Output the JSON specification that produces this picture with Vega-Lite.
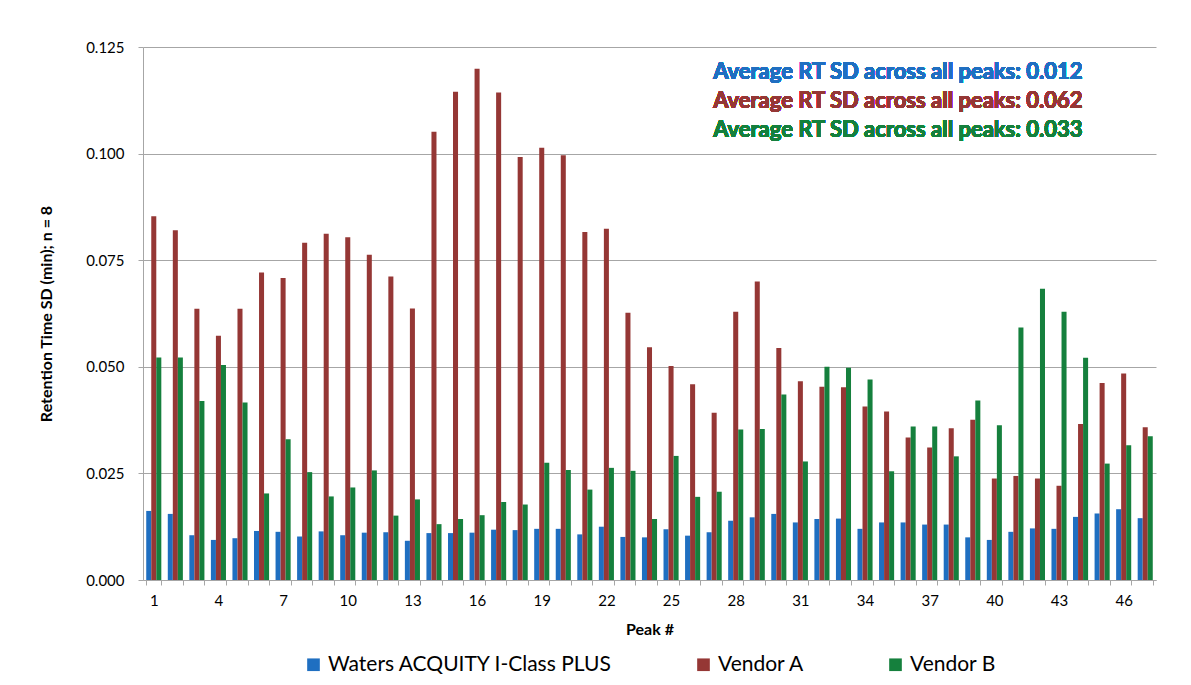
{
  "$schema": "https://vega.github.io/schema/vega-lite/v6.json",
  "width": 1013,
  "height": 533,
  "padding": {"left": 38, "top": 40, "right": 36, "bottom": 5},
  "background": "white",
  "config": {
    "font": "Lato",
    "view": {"stroke": null},
    "axis": {"labelFont": "Lato", "titleFont": "Lato", "labelColor": "#000000", "titleColor": "#000000"},
    "legend": {"layout": {"bottom": {"anchor": "middle"}}}
  },
  "data": {
    "values": [
      {"peak": 1, "Waters ACQUITY I-Class PLUS": 0.0162, "Vendor A": 0.0853, "Vendor B": 0.0522},
      {"peak": 2, "Waters ACQUITY I-Class PLUS": 0.0155, "Vendor A": 0.0820, "Vendor B": 0.0522},
      {"peak": 3, "Waters ACQUITY I-Class PLUS": 0.0105, "Vendor A": 0.0636, "Vendor B": 0.0420},
      {"peak": 4, "Waters ACQUITY I-Class PLUS": 0.0094, "Vendor A": 0.0573, "Vendor B": 0.0504},
      {"peak": 5, "Waters ACQUITY I-Class PLUS": 0.0098, "Vendor A": 0.0636, "Vendor B": 0.0416},
      {"peak": 6, "Waters ACQUITY I-Class PLUS": 0.0115, "Vendor A": 0.0721, "Vendor B": 0.0203},
      {"peak": 7, "Waters ACQUITY I-Class PLUS": 0.0113, "Vendor A": 0.0708, "Vendor B": 0.0330},
      {"peak": 8, "Waters ACQUITY I-Class PLUS": 0.0102, "Vendor A": 0.0791, "Vendor B": 0.0253},
      {"peak": 9, "Waters ACQUITY I-Class PLUS": 0.0114, "Vendor A": 0.0812, "Vendor B": 0.0196},
      {"peak": 10, "Waters ACQUITY I-Class PLUS": 0.0105, "Vendor A": 0.0804, "Vendor B": 0.0217},
      {"peak": 11, "Waters ACQUITY I-Class PLUS": 0.0111, "Vendor A": 0.0763, "Vendor B": 0.0257},
      {"peak": 12, "Waters ACQUITY I-Class PLUS": 0.0112, "Vendor A": 0.0712, "Vendor B": 0.0151},
      {"peak": 13, "Waters ACQUITY I-Class PLUS": 0.0092, "Vendor A": 0.0637, "Vendor B": 0.0189},
      {"peak": 14, "Waters ACQUITY I-Class PLUS": 0.0110, "Vendor A": 0.1051, "Vendor B": 0.0131},
      {"peak": 15, "Waters ACQUITY I-Class PLUS": 0.0110, "Vendor A": 0.1145, "Vendor B": 0.0143},
      {"peak": 16, "Waters ACQUITY I-Class PLUS": 0.0111, "Vendor A": 0.1199, "Vendor B": 0.0152},
      {"peak": 17, "Waters ACQUITY I-Class PLUS": 0.0118, "Vendor A": 0.1143, "Vendor B": 0.0183},
      {"peak": 18, "Waters ACQUITY I-Class PLUS": 0.0117, "Vendor A": 0.0992, "Vendor B": 0.0177},
      {"peak": 19, "Waters ACQUITY I-Class PLUS": 0.0120, "Vendor A": 0.1014, "Vendor B": 0.0275},
      {"peak": 20, "Waters ACQUITY I-Class PLUS": 0.0120, "Vendor A": 0.0996, "Vendor B": 0.0258},
      {"peak": 21, "Waters ACQUITY I-Class PLUS": 0.0107, "Vendor A": 0.0816, "Vendor B": 0.0212},
      {"peak": 22, "Waters ACQUITY I-Class PLUS": 0.0125, "Vendor A": 0.0824, "Vendor B": 0.0263},
      {"peak": 23, "Waters ACQUITY I-Class PLUS": 0.0101, "Vendor A": 0.0627, "Vendor B": 0.0256},
      {"peak": 24, "Waters ACQUITY I-Class PLUS": 0.0100, "Vendor A": 0.0546, "Vendor B": 0.0143},
      {"peak": 25, "Waters ACQUITY I-Class PLUS": 0.0119, "Vendor A": 0.0502, "Vendor B": 0.0291},
      {"peak": 26, "Waters ACQUITY I-Class PLUS": 0.0104, "Vendor A": 0.0459, "Vendor B": 0.0195},
      {"peak": 27, "Waters ACQUITY I-Class PLUS": 0.0112, "Vendor A": 0.0392, "Vendor B": 0.0207},
      {"peak": 28, "Waters ACQUITY I-Class PLUS": 0.0139, "Vendor A": 0.0629, "Vendor B": 0.0353},
      {"peak": 29, "Waters ACQUITY I-Class PLUS": 0.0147, "Vendor A": 0.0700, "Vendor B": 0.0354},
      {"peak": 30, "Waters ACQUITY I-Class PLUS": 0.0155, "Vendor A": 0.0544, "Vendor B": 0.0435},
      {"peak": 31, "Waters ACQUITY I-Class PLUS": 0.0135, "Vendor A": 0.0466, "Vendor B": 0.0278},
      {"peak": 32, "Waters ACQUITY I-Class PLUS": 0.0143, "Vendor A": 0.0453, "Vendor B": 0.0500},
      {"peak": 33, "Waters ACQUITY I-Class PLUS": 0.0144, "Vendor A": 0.0452, "Vendor B": 0.0498},
      {"peak": 34, "Waters ACQUITY I-Class PLUS": 0.0120, "Vendor A": 0.0407, "Vendor B": 0.0470},
      {"peak": 35, "Waters ACQUITY I-Class PLUS": 0.0135, "Vendor A": 0.0395, "Vendor B": 0.0255},
      {"peak": 36, "Waters ACQUITY I-Class PLUS": 0.0135, "Vendor A": 0.0334, "Vendor B": 0.0360},
      {"peak": 37, "Waters ACQUITY I-Class PLUS": 0.0130, "Vendor A": 0.0311, "Vendor B": 0.0360},
      {"peak": 38, "Waters ACQUITY I-Class PLUS": 0.0130, "Vendor A": 0.0356, "Vendor B": 0.0290},
      {"peak": 39, "Waters ACQUITY I-Class PLUS": 0.0100, "Vendor A": 0.0376, "Vendor B": 0.0421},
      {"peak": 40, "Waters ACQUITY I-Class PLUS": 0.0094, "Vendor A": 0.0238, "Vendor B": 0.0363},
      {"peak": 41, "Waters ACQUITY I-Class PLUS": 0.0113, "Vendor A": 0.0244, "Vendor B": 0.0592},
      {"peak": 42, "Waters ACQUITY I-Class PLUS": 0.0121, "Vendor A": 0.0238, "Vendor B": 0.0683},
      {"peak": 43, "Waters ACQUITY I-Class PLUS": 0.0120, "Vendor A": 0.0221, "Vendor B": 0.0629},
      {"peak": 44, "Waters ACQUITY I-Class PLUS": 0.0148, "Vendor A": 0.0366, "Vendor B": 0.0521},
      {"peak": 45, "Waters ACQUITY I-Class PLUS": 0.0156, "Vendor A": 0.0462, "Vendor B": 0.0273},
      {"peak": 46, "Waters ACQUITY I-Class PLUS": 0.0166, "Vendor A": 0.0484, "Vendor B": 0.0316},
      {"peak": 47, "Waters ACQUITY I-Class PLUS": 0.0145, "Vendor A": 0.0358, "Vendor B": 0.0337}
    ]
  },
  "encoding": {
    "x": {
      "field": "peak",
      "type": "ordinal",
      "title": "Peak #",
      "scale": {"paddingInner": 0.3, "paddingOuter": 0.15},
      "axis": {
        "labelAngle": 0,
        "labelExpr": "(datum.value - 1) % 3 == 0 ? datum.label : ''",
        "labelOverlap": false,
        "labelFontSize": 15,
        "labelPadding": 8,
        "tickBand": "extent",
        "tickSize": 5,
        "tickColor": "#A6A6A6",
        "domainColor": "#A6A6A6",
        "titleFontSize": 16,
        "titleFontWeight": "bold",
        "titlePadding": 13
      }
    }
  },
  "layer": [
    {
      "transform": [
        {"fold": ["Waters ACQUITY I-Class PLUS", "Vendor A", "Vendor B"], "as": ["series", "sd"]}
      ],
      "mark": {"type": "bar"},
      "encoding": {
        "xOffset": {
          "field": "series",
          "type": "nominal",
          "sort": ["Waters ACQUITY I-Class PLUS", "Vendor A", "Vendor B"],
          "scale": {"paddingInner": 0, "paddingOuter": 0}
        },
        "y": {
          "field": "sd",
          "type": "quantitative",
          "title": "Retention Time SD (min); n = 8",
          "scale": {"domain": [0, 0.125], "nice": false},
          "axis": {
            "values": [0, 0.025, 0.05, 0.075, 0.1, 0.125],
            "format": ".3f",
            "labelFontSize": 15,
            "labelPadding": 14,
            "tickSize": 5,
            "tickColor": "#A6A6A6",
            "domainColor": "#A6A6A6",
            "gridColor": "#A6A6A6",
            "gridOpacity": 1,
            "titleFontSize": 16,
            "titleFontWeight": "bold",
            "titlePadding": 31
          }
        },
        "color": {
          "field": "series",
          "type": "nominal",
          "scale": {
            "domain": ["Waters ACQUITY I-Class PLUS", "Vendor A", "Vendor B"],
            "range": ["#1F6FC1", "#953735", "#15803D"]
          },
          "legend": {
            "title": null,
            "orient": "bottom",
            "direction": "horizontal",
            "symbolType": "square",
            "symbolSize": 160,
            "symbolStrokeWidth": 0,
            "labelFontSize": 21,
            "labelFont": "Lato",
            "labelLimit": 0,
            "columnPadding": 80,
            "offset": 17
          }
        }
      }
    },
    {
      "mark": {"type": "text", "align": "right", "baseline": "middle", "fontSize": 22, "fontWeight": "bold", "color": "#1F6FC1", "dx": 2, "text": "Average RT SD across all peaks: 0.012"},
      "encoding": {"x": {"datum": 44, "type": "ordinal"}, "y": {"datum": 0.1191}}
    },
    {
      "mark": {"type": "text", "align": "right", "baseline": "middle", "fontSize": 22, "fontWeight": "bold", "color": "#953735", "dx": 2, "text": "Average RT SD across all peaks: 0.062"},
      "encoding": {"x": {"datum": 44, "type": "ordinal"}, "y": {"datum": 0.1123}}
    },
    {
      "mark": {"type": "text", "align": "right", "baseline": "middle", "fontSize": 22, "fontWeight": "bold", "color": "#15803D", "dx": 2, "text": "Average RT SD across all peaks: 0.033"},
      "encoding": {"x": {"datum": 44, "type": "ordinal"}, "y": {"datum": 0.1055}}
    }
  ]
}
